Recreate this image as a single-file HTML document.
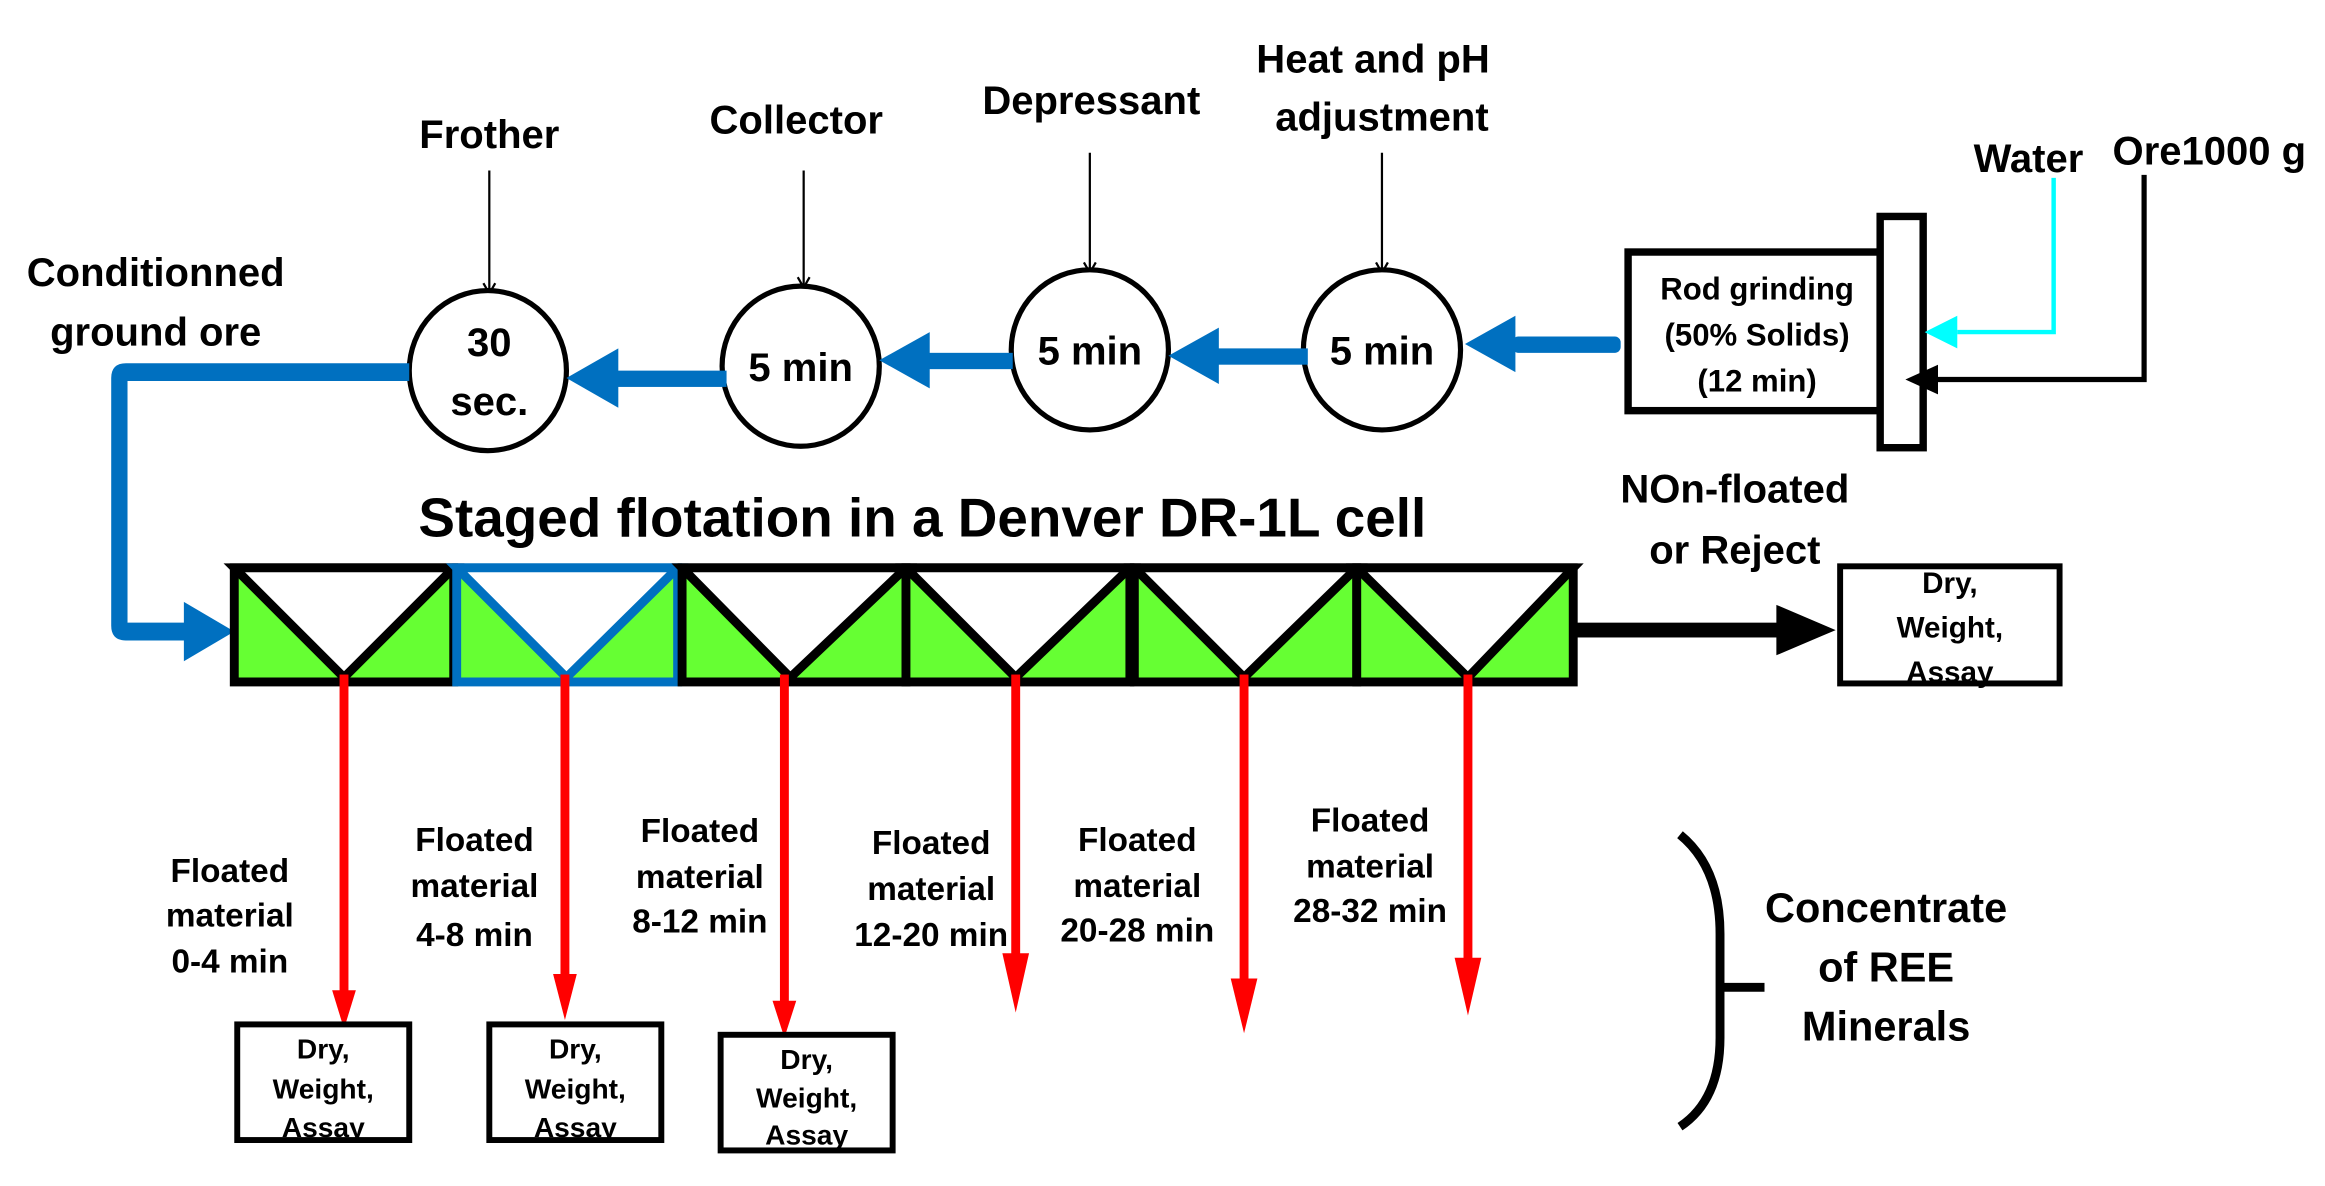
<!DOCTYPE html>
<html><head><meta charset="utf-8"><style>
html,body{margin:0;padding:0;background:#fff;}
svg{display:block;}
text{font-family:"Liberation Sans",sans-serif;font-weight:bold;fill:#000;text-anchor:middle;}
</style></head><body>
<svg width="2325" height="1186" viewBox="0 0 1568 800" preserveAspectRatio="none" xmlns="http://www.w3.org/2000/svg">
<defs>
<marker id="thin" markerWidth="10" markerHeight="10" refX="8" refY="5" orient="auto" markerUnits="userSpaceOnUse"><path d="M1,1 L8,5 L1,9" fill="none" stroke="#000" stroke-width="1.5"/></marker>
</defs>
<!-- top labels -->
<text x="330" y="100" font-size="27">Frother</text>
<text x="537" y="90" font-size="27">Collector</text>
<text x="736" y="77" font-size="27">Depressant</text>
<text x="926" y="49" font-size="27">Heat and pH</text>
<text x="932" y="88" font-size="27">adjustment</text>
<text x="1368" y="116" font-size="27">Water</text>
<text x="1490" y="111" font-size="27">Ore1000 g</text>
<text x="105" y="193" font-size="27">Conditionned</text>
<text x="105" y="233" font-size="27">ground ore</text>
<!-- thin reagent arrows -->
<g stroke="#000" stroke-width="1.5" marker-end="url(#thin)">
<line x1="330" y1="115" x2="330" y2="198"/>
<line x1="542" y1="115" x2="542" y2="194"/>
<line x1="735" y1="103" x2="735" y2="184"/>
<line x1="932" y1="103" x2="932" y2="184"/>
</g>
<!-- circles -->
<g fill="#fff" stroke="#000" stroke-width="3.5">
<ellipse cx="329" cy="250" rx="53" ry="54"/>
<ellipse cx="540" cy="247" rx="53" ry="54"/>
<ellipse cx="735" cy="236" rx="53" ry="54"/>
<ellipse cx="932" cy="236" rx="53" ry="54"/>
</g>
<text x="330" y="240" font-size="27">30</text>
<text x="330" y="280" font-size="27">sec.</text>
<text x="540" y="257" font-size="27">5 min</text>
<text x="735" y="246" font-size="27">5 min</text>
<text x="932" y="246" font-size="27">5 min</text>
<!-- blue arrows -->
<g fill="#0070c0" stroke="none">
<rect x="1020" y="227" width="73" height="11" rx="4"/>
<polygon points="988,232 1022,213 1022,251"/>
<rect x="820" y="235" width="62" height="11"/>
<polygon points="788,240 822,221 822,259"/>
<rect x="625" y="238" width="58" height="11"/>
<polygon points="593,243 627,224 627,262"/>
<rect x="415" y="250" width="75" height="11"/>
<polygon points="382,255 417,235 417,275"/>
<path d="M276,245 L85,245 Q75,245 75,255 L75,422 Q75,432 85,432 L125,432 L125,420 L86,420 L86,257 L276,257 Z"/>
<polygon points="158,426 124,406 124,446"/>
</g>
<!-- rod grinding -->
<rect x="1098" y="170" width="170" height="107" fill="#fff" stroke="#000" stroke-width="5"/>
<rect x="1268" y="146" width="29" height="156" fill="#fff" stroke="#000" stroke-width="5"/>
<text x="1185" y="202" font-size="21">Rod grinding</text>
<text x="1185" y="233" font-size="21">(50% Solids)</text>
<text x="1185" y="264" font-size="21">(12 min)</text>
<polyline points="1385,120 1385,224 1320,224" fill="none" stroke="#00ffff" stroke-width="3"/>
<polygon points="1298,224 1320,213 1320,235" fill="#00ffff"/>
<polyline points="1446,118 1446,256 1305,256" fill="none" stroke="#000" stroke-width="3.5"/>
<polygon points="1285,256 1307,246 1307,266" fill="#000"/>
<!-- title -->
<text x="622" y="362" font-size="37">Staged flotation in a Denver DR-1L cell</text>
<text x="1170" y="339" font-size="27">NOn-floated</text>
<text x="1170" y="380" font-size="27">or Reject</text>
<!-- cells -->
<g stroke-width="6" stroke-linejoin="miter">
<g stroke="#000">
<rect x="158" y="383" width="148" height="77" fill="#66ff33"/>
<polygon points="158,383 306,383 232,457" fill="#fff"/>
</g>
<g stroke="#0070c0">
<rect x="308" y="383" width="149" height="77" fill="#66ff33"/>
<polygon points="308,383 457,383 382,457" fill="#fff"/>
</g>
<g stroke="#000">
<rect x="460" y="383" width="151" height="77" fill="#66ff33"/>
<polygon points="460,383 611,383 533,457" fill="#fff"/>
<rect x="611" y="383" width="151" height="77" fill="#66ff33"/>
<polygon points="611,383 762,383 685,457" fill="#fff"/>
<rect x="765" y="383" width="150" height="77" fill="#66ff33"/>
<polygon points="765,383 915,383 839,457" fill="#fff"/>
<rect x="915" y="383" width="146" height="77" fill="#66ff33"/>
<polygon points="915,383 1061,383 990,457" fill="#fff"/>
</g>
</g>
<!-- reject arrow -->
<rect x="1062" y="420" width="140" height="10" fill="#000"/>
<polygon points="1238,425 1198,408 1198,442" fill="#000"/>
<rect x="1241" y="382" width="148" height="79" fill="#fff" stroke="#000" stroke-width="4"/>
<text x="1315" y="400" font-size="20">Dry,</text>
<text x="1315" y="430" font-size="20">Weight,</text>
<text x="1315" y="460" font-size="20">Assay</text>
<!-- red arrows -->
<g fill="#ff0000">
<rect x="229" y="455" width="6" height="216"/><polygon points="224,668 240,668 232,694"/>
<rect x="378" y="455" width="6" height="205"/><polygon points="373,657 389,657 381,688"/>
<rect x="526" y="455" width="6" height="222"/><polygon points="521,675 537,675 529,700"/>
<rect x="682" y="455" width="6" height="190"/><polygon points="676,643 694,643 685,683"/>
<rect x="836" y="455" width="6" height="208"/><polygon points="830,660 848,660 839,697"/>
<rect x="987" y="455" width="6" height="194"/><polygon points="981,646 999,646 990,685"/>
</g>
<!-- floated labels -->
<g font-size="22.5">
<text x="155" y="595">Floated</text><text x="155" y="625">material</text><text x="155" y="656">0-4 min</text>
<text x="320" y="574">Floated</text><text x="320" y="605">material</text><text x="320" y="638">4-8 min</text>
<text x="472" y="568">Floated</text><text x="472" y="599">material</text><text x="472" y="629">8-12 min</text>
<text x="628" y="576">Floated</text><text x="628" y="607">material</text><text x="628" y="638">12-20 min</text>
<text x="767" y="574">Floated</text><text x="767" y="605">material</text><text x="767" y="635">20-28 min</text>
<text x="924" y="561">Floated</text><text x="924" y="592">material</text><text x="924" y="622">28-32 min</text>
</g>
<!-- bottom boxes -->
<g fill="#fff" stroke="#000" stroke-width="4">
<rect x="160" y="691" width="116" height="78"/>
<rect x="330" y="691" width="116" height="78"/>
<rect x="486" y="698" width="116" height="78"/>
</g>
<g font-size="19">
<text x="218" y="714">Dry,</text><text x="218" y="741">Weight,</text><text x="218" y="767">Assay</text>
<text x="388" y="714">Dry,</text><text x="388" y="741">Weight,</text><text x="388" y="767">Assay</text>
<text x="544" y="721">Dry,</text><text x="544" y="747">Weight,</text><text x="544" y="772">Assay</text>
</g>
<!-- brace -->
<path d="M1133,563 Q1160,585 1160,630 L1160,700 Q1160,742 1133,760" fill="none" stroke="#000" stroke-width="6"/>
<line x1="1160" y1="666" x2="1190" y2="666" stroke="#000" stroke-width="6"/>
<text x="1272" y="622" font-size="28">Concentrate</text>
<text x="1272" y="662" font-size="28">of REE</text>
<text x="1272" y="702" font-size="28">Minerals</text>
</svg>
</body></html>
